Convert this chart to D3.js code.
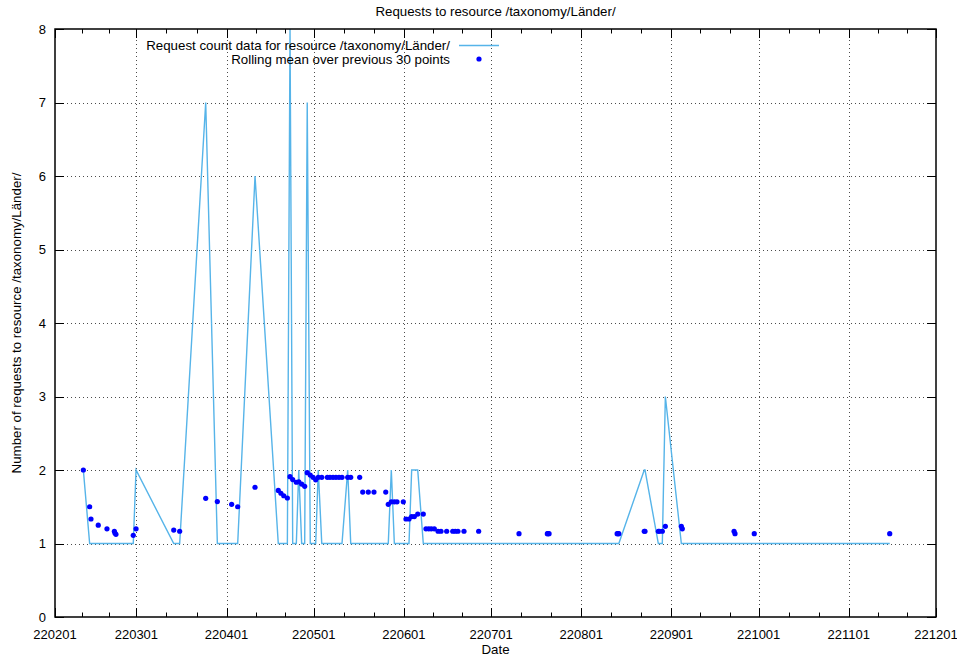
<!DOCTYPE html>
<html>
<head>
<meta charset="utf-8">
<script src="https://cdn.jsdelivr.net/npm/d3@7"></script>
<style>
  body { margin: 0; background: #fff; }
  svg text { font-family: "Liberation Sans", Arial, sans-serif; fill: #000; }
  .tickLabel { font-size: 13px; }
  .label { font-size: 13.3px; }
</style>
</head>
<body>
<div id="chart"></div>
<script>
// request timestamps (yyyy-mm-dd hh)
const dates = [
  "2022-02-10 18", "2022-02-12 22", "2022-02-13 09", "2022-02-15 21", "2022-02-18 21",
  "2022-02-21 10", "2022-02-21 15", "2022-02-21 23", "2022-02-27 22", "2022-02-28 21",
  "2022-03-13 20", "2022-03-15 21", "2022-03-24 20", "2022-03-28 20", "2022-04-02 18",
  "2022-04-04 20", "2022-04-10 19", "2022-04-18 19", "2022-04-19 17", "2022-04-20 16",
  "2022-04-21 22", "2022-04-22 20", "2022-04-23 18", "2022-04-25 00", "2022-04-25 20",
  "2022-04-26 20", "2022-04-27 21", "2022-04-28 18", "2022-04-29 19", "2022-04-30 18",
  "2022-05-01 16", "2022-05-02 13", "2022-05-03 18", "2022-05-05 16", "2022-05-06 14",
  "2022-05-07 15", "2022-05-08 15", "2022-05-09 16", "2022-05-10 17", "2022-05-12 16",
  "2022-05-13 17", "2022-05-16 19", "2022-05-17 20", "2022-05-19 18", "2022-05-21 17",
  "2022-05-25 18", "2022-05-26 15", "2022-05-27 16", "2022-05-28 17", "2022-05-29 15",
  "2022-05-31 19", "2022-06-01 17", "2022-06-02 18", "2022-06-03 16", "2022-06-04 14",
  "2022-06-05 18", "2022-06-07 16", "2022-06-08 14", "2022-06-09 13", "2022-06-10 10",
  "2022-06-11 11", "2022-06-12 18", "2022-06-13 18", "2022-06-15 17", "2022-06-17 19",
  "2022-06-18 16", "2022-06-19 14", "2022-06-21 16", "2022-06-26 17", "2022-07-10 14",
  "2022-07-20 08", "2022-07-20 13", "2022-07-20 22", "2022-08-13 08", "2022-08-13 15",
  "2022-08-13 22", "2022-08-22 16", "2022-08-22 22", "2022-08-27 12", "2022-08-27 20",
  "2022-08-28 21", "2022-08-29 22", "2022-09-04 10", "2022-09-04 18", "2022-09-22 13",
  "2022-09-22 21", "2022-09-29 12", "2022-11-15 02"
];

// number of requests at each timestamp
const counts = [
  2, 1, 1, 1, 1, 1, 1, 1, 1, 2,
  1, 1, 7, 1, 1, 1, 6, 1, 1, 1,
  1, 8, 1, 1, 2, 1, 1, 7, 1, 1,
  1, 2, 1, 1, 1, 1, 1, 1, 1, 2,
  1, 1, 1, 1, 1, 1, 1, 2, 1, 1,
  1, 1, 1, 2, 2, 2, 1, 1, 1, 1,
  1, 1, 1, 1, 1, 1, 1, 1, 1, 1,
  1, 1, 1, 1, 1, 1, 2, 2, 1, 1,
  1, 3, 1, 1, 1, 1, 1, 1
];

// rolling mean over the previous 30 points
const means = [
  2.000, 1.500, 1.333, 1.250, 1.200, 1.167, 1.143, 1.125, 1.111, 1.200,
  1.182, 1.167, 1.615, 1.571, 1.533, 1.500, 1.765, 1.722, 1.684, 1.650,
  1.619, 1.909, 1.870, 1.833, 1.840, 1.808, 1.778, 1.964, 1.931, 1.900,
  1.867, 1.900, 1.900, 1.900, 1.900, 1.900, 1.900, 1.900, 1.900, 1.900,
  1.900, 1.900, 1.700, 1.700, 1.700, 1.700, 1.533, 1.567, 1.567, 1.567,
  1.567, 1.333, 1.333, 1.367, 1.367, 1.400, 1.400, 1.200, 1.200, 1.200,
  1.200, 1.167, 1.167, 1.167, 1.167, 1.167, 1.167, 1.167, 1.167, 1.133,
  1.133, 1.133, 1.133, 1.133, 1.133, 1.133, 1.167, 1.167, 1.167, 1.167,
  1.167, 1.233, 1.233, 1.200, 1.167, 1.133, 1.133, 1.133
];

const yTicks = [0, 1, 2, 3, 4, 5, 6, 7, 8];
const xDomain = ["2022-02-01 00", "2022-12-01 00"];

const titleText = "Requests to resource /taxonomy/Länder/";
const xLabelText = "Date";
const yLabelText = "Number of requests to resource /taxonomy/Länder/";
const seriesNames = ["Request count data for resource /taxonomy/Länder/", "Rolling mean over previous 30 points"];

//Setting up the SVG
const width = 957;
const height = 656;
const margin = { top: 29, left: 55, right: 21, bottom: 39 };

const lineColor = "#56b4e9";
const dotColor = "#0000ff";

const svg = d3.select("#chart")
    .append("svg")
    .attr("width", width)
    .attr("height", height);

const parseTime = d3.timeParse("%Y-%m-%d %H");

const data = dates.map((d, i) => ({
    date: parseTime(d),
    count: counts[i],
    mean: means[i]
}));

//scales
const xScale = d3.scaleTime()
    .domain(xDomain.map(parseTime))
    .range([margin.left, width - margin.right]);

const yScale = d3.scaleLinear()
    .domain([0, 8])
    .range([height - margin.bottom, margin.top]);

const x0 = margin.left, x1 = width - margin.right;
const y0 = height - margin.bottom, y1 = margin.top;

const monthTicks = d3.timeMonth.range(xScale.domain()[0], d3.timeDay.offset(xScale.domain()[1], 1));

//grid
const grid = svg.append("g")
    .attr("stroke", "#000")
    .attr("stroke-opacity", 0.7)
    .attr("stroke-width", 1)
    .attr("stroke-dasharray", "1,3");

grid.selectAll(".gx")
    .data(monthTicks.slice(1, -1))
    .enter()
    .append("line")
    .attr("x1", d => Math.round(xScale(d)) + 0.5)
    .attr("x2", d => Math.round(xScale(d)) + 0.5)
    .attr("y1", y0)
    .attr("y2", y1);

grid.selectAll(".gy")
    .data(yTicks.slice(1, -1))
    .enter()
    .append("line")
    .attr("x1", x0)
    .attr("x2", x1)
    .attr("y1", d => Math.round(yScale(d)) + 0.5)
    .attr("y2", d => Math.round(yScale(d)) + 0.5);

//ticks (inward, mirrored like gnuplot)
const ticks = svg.append("g").attr("stroke", "#000").attr("stroke-width", 1);
const majorLen = 9, minorLen = 4.5;

yTicks.forEach(v => {
    const yy = Math.round(yScale(v)) + 0.5;
    ticks.append("line").attr("x1", x0).attr("x2", x0 + majorLen).attr("y1", yy).attr("y2", yy);
    ticks.append("line").attr("x1", x1 - majorLen).attr("x2", x1).attr("y1", yy).attr("y2", yy);
});

monthTicks.forEach((m, i) => {
    const xx = Math.round(xScale(m)) + 0.5;
    ticks.append("line").attr("x1", xx).attr("x2", xx).attr("y1", y0).attr("y2", y0 - majorLen);
    ticks.append("line").attr("x1", xx).attr("x2", xx).attr("y1", y1).attr("y2", y1 + majorLen);
    if (i < monthTicks.length - 1) {
        const next = xScale(monthTicks[i + 1]);
        [1, 2].forEach(k => {
            const mx = Math.round(xScale(m) + (next - xScale(m)) * k / 3) + 0.5;
            ticks.append("line").attr("x1", mx).attr("x2", mx).attr("y1", y0).attr("y2", y0 - minorLen);
            ticks.append("line").attr("x1", mx).attr("x2", mx).attr("y1", y1).attr("y2", y1 + minorLen);
        });
    }
});

//tick labels
svg.selectAll(".ylab")
    .data(yTicks)
    .enter()
    .append("text")
    .attr("class", "tickLabel")
    .attr("x", x0 - 9)
    .attr("y", d => yScale(d) + 4.5)
    .attr("text-anchor", "end")
    .text(d => d);

svg.selectAll(".xlab")
    .data(monthTicks)
    .enter()
    .append("text")
    .attr("class", "tickLabel")
    .attr("x", d => xScale(d))
    .attr("y", y0 + 22)
    .attr("text-anchor", "middle")
    .text(d => d3.timeFormat("%y%m%d")(d));

//clip for the data
svg.append("clipPath")
    .attr("id", "plotClip")
    .append("rect")
    .attr("x", x0)
    .attr("y", y1)
    .attr("width", x1 - x0)
    .attr("height", y0 - y1);

const line = d3.line()
    .x(d => xScale(d.date))
    .y(d => yScale(d.count));

svg.append("path")
    .datum(data)
    .attr("clip-path", "url(#plotClip)")
    .attr("fill", "none")
    .attr("stroke", lineColor)
    .attr("stroke-width", 1.4)
    .attr("stroke-linejoin", "miter")
    .attr("d", line);

svg.append("g")
    .selectAll("circle")
    .data(data)
    .enter()
    .append("circle")
    .attr("cx", d => xScale(d.date))
    .attr("cy", d => yScale(d.mean))
    .attr("r", 2.6)
    .attr("fill", dotColor);

//legend
const legend = svg.append("g");
legend.append("text")
    .attr("class", "label")
    .attr("x", 450)
    .attr("y", 50)
    .attr("text-anchor", "end")
    .text(seriesNames[0]);
legend.append("line")
    .attr("x1", 459)
    .attr("x2", 499)
    .attr("y1", 45.5)
    .attr("y2", 45.5)
    .attr("stroke", lineColor)
    .attr("stroke-width", 1.4);
legend.append("text")
    .attr("class", "label")
    .attr("x", 450)
    .attr("y", 64)
    .attr("text-anchor", "end")
    .text(seriesNames[1]);
legend.append("circle")
    .attr("cx", 479)
    .attr("cy", 59)
    .attr("r", 2.6)
    .attr("fill", dotColor);

//border
svg.append("rect")
    .attr("x", x0)
    .attr("y", y1)
    .attr("width", x1 - x0)
    .attr("height", y0 - y1)
    .attr("fill", "none")
    .attr("stroke", "#000")
    .attr("stroke-width", 1.5);

//titles
svg.append("text")
    .attr("class", "label")
    .attr("x", (x0 + x1) / 2)
    .attr("y", 16)
    .attr("text-anchor", "middle")
    .text(titleText);

svg.append("text")
    .attr("class", "label")
    .attr("x", (x0 + x1) / 2)
    .attr("y", 654)
    .attr("text-anchor", "middle")
    .text(xLabelText);

svg.append("text")
    .attr("class", "label")
    .attr("transform", "rotate(-90)")
    .attr("x", -(y0 + y1) / 2)
    .attr("y", 21)
    .attr("text-anchor", "middle")
    .text(yLabelText);
</script>
</body>
</html>
